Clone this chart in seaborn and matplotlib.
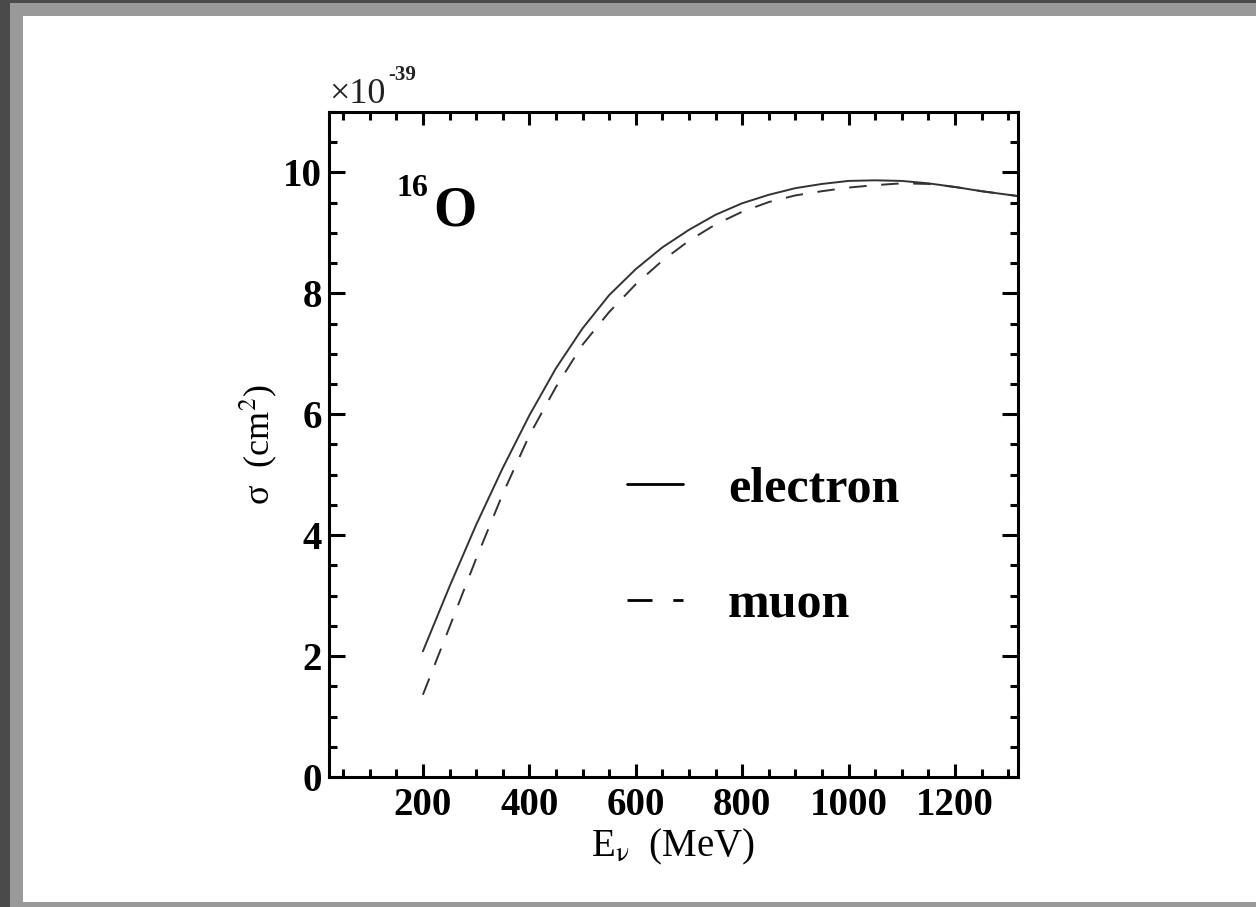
import numpy as np
import pandas as pd
import matplotlib
matplotlib.use("Agg")
import matplotlib.pyplot as plt
import seaborn as sns
from matplotlib.ticker import MultipleLocator
from matplotlib.patches import Rectangle

# ---- data ----
energy = [200, 250, 300, 350, 400, 450, 500, 550, 600, 650, 700, 750, 800,
          850, 900, 950, 1000, 1050, 1100, 1150, 1200, 1250, 1318]
electron = [2.08, 3.15, 4.17, 5.11, 5.98, 6.76, 7.42, 7.97, 8.40, 8.76, 9.05,
            9.30, 9.49, 9.63, 9.74, 9.81, 9.86, 9.87, 9.86, 9.82, 9.76, 9.69, 9.61]
muon = [1.36, 2.48, 3.61, 4.68, 5.65, 6.45, 7.15, 7.69, 8.15, 8.54, 8.87,
        9.14, 9.35, 9.51, 9.62, 9.69, 9.75, 9.79, 9.82, 9.81, 9.76, 9.69, 9.61]
series_labels = ["electron", "muon"]
xticks = [200, 400, 600, 800, 1000, 1200]
yticks = [0, 2, 4, 6, 8, 10]

sns.set_theme(style="ticks")
plt.rcParams["font.family"] = ["Liberation Serif", "DejaVu Serif"]
plt.rcParams["mathtext.fontset"] = "stix"
plt.rcParams["text.color"] = "black"
plt.rcParams["axes.labelcolor"] = "black"
plt.rcParams["xtick.color"] = "black"
plt.rcParams["ytick.color"] = "black"

W, H = 1256, 907
fig = plt.figure(figsize=(W / 100, H / 100), dpi=100)

# frame decoration (window border)
fig.patches.append(Rectangle((0, 0), 1, 1, transform=fig.transFigure,
                             facecolor="#4a4a4a", edgecolor="none", zorder=-3))
fig.patches.append(Rectangle((10 / W, 0), 1, 1 - 3 / H, transform=fig.transFigure,
                             facecolor="#999999", edgecolor="none", zorder=-2))
fig.patches.append(Rectangle((23 / W, 5 / H), 1, 1 - 16 / H - 5 / H,
                             transform=fig.transFigure,
                             facecolor="white", edgecolor="none", zorder=-1))

ax = fig.add_axes([329 / W, 1 - 777 / H, (1017.7 - 329) / W, (777 - 112) / H])
ax.set_facecolor("white")

df = pd.DataFrame({"E": energy, "electron": electron, "muon": muon})
line_color = "#333333"
sns.lineplot(data=df, x="E", y="electron", ax=ax, color=line_color, lw=1.4,
             label=series_labels[0])
sns.lineplot(data=df, x="E", y="muon", ax=ax, color=line_color, lw=1.4,
             label=series_labels[1])
ax.lines[1].set_dashes((9, 7.5))

ax.set_xlim(23.5, 1318)
ax.set_ylim(0, 11)
ax.set_xticks(xticks)
ax.set_yticks(yticks)
ax.xaxis.set_minor_locator(MultipleLocator(50))
ax.yaxis.set_minor_locator(MultipleLocator(0.5))
ax.tick_params(which="both", direction="in", top=True, right=True,
               width=2.2, color="black", labelcolor="black")
ax.tick_params(axis="x", which="major", length=9.5)
ax.tick_params(axis="y", which="major", length=11.5)
ax.tick_params(which="minor", length=5.5)
ax.tick_params(axis="x", which="major", pad=7)
ax.tick_params(axis="y", which="major", pad=5)
for lab in ax.get_xticklabels() + ax.get_yticklabels():
    lab.set_fontsize(28)
    lab.set_fontweight("bold")
for s in ax.spines.values():
    s.set_linewidth(2.2)
    s.set_color("black")

ax.set_xlabel(r"E$_{\mathrm{\nu}}$  (MeV)", fontsize=28, color="black")
ax.set_ylabel("σ  (cm$^{2}$)", fontsize=26, color="black")
ax.xaxis.set_label_coords(0.5, -0.075)
ax.yaxis.set_label_coords(-0.072, 0.5)

# exponent label
ax.text(0.0, 1.0135, "×10", transform=ax.transAxes, fontsize=26,
        ha="left", va="baseline", color="#222222")
ax.text(0.0857, 1.048, "-39", transform=ax.transAxes, fontsize=15,
        fontweight="bold", ha="left", va="baseline", color="#222222")

# 16O annotation
ax.text(0.0987, 0.8737, "16", transform=ax.transAxes, fontsize=23,
        fontweight="bold", ha="left", va="baseline")
ax.text(0.151, 0.8286, "O", transform=ax.transAxes, fontsize=40,
        fontweight="bold", ha="left", va="baseline")

leg = ax.legend(loc="center left", bbox_to_anchor=(0.4327, 0.3445),
                frameon=False, fontsize=36, handlelength=1.12,
                handletextpad=0.9, labelspacing=1.4, borderpad=0,
                borderaxespad=0)
for t in leg.get_texts():
    t.set_fontweight("bold")
    t.set_color("black")
for h in leg.get_lines():
    h.set_color("black")
    h.set_linewidth(2.0)

fig.savefig("out.png", dpi=100, facecolor=fig.get_facecolor())
